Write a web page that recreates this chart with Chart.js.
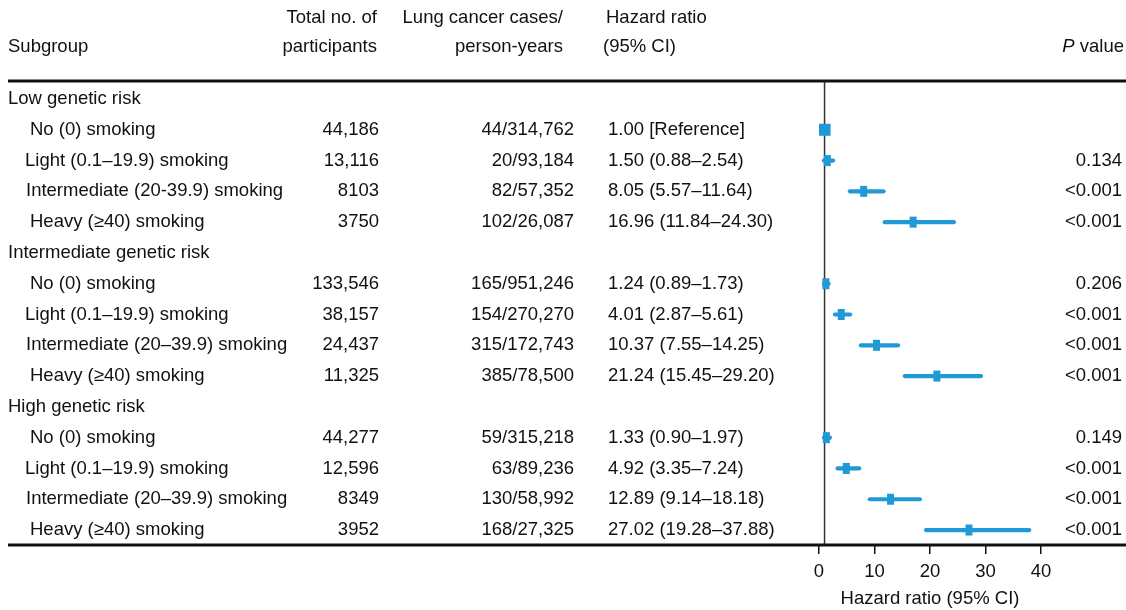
<!DOCTYPE html>
<html>
<head>
<meta charset="utf-8">
<script src="https://cdn.jsdelivr.net/npm/chart.js@4/dist/chart.umd.min.js"></script>
<style>
body{margin:0;background:#fff}
#wrap{width:1126px;height:610px;position:relative}
</style>
</head>
<body>
<div id="wrap"><canvas id="forest"></canvas></div>
<script>
/* TABLE DATA */
const rowLabels=['Low genetic risk','No (0) smoking','Light (0.1–19.9) smoking','Intermediate (20-39.9) smoking','Heavy (≥40) smoking',
  'Intermediate genetic risk','No (0) smoking','Light (0.1–19.9) smoking','Intermediate (20–39.9) smoking','Heavy (≥40) smoking',
  'High genetic risk','No (0) smoking','Light (0.1–19.9) smoking','Intermediate (20–39.9) smoking','Heavy (≥40) smoking'];
const labelX=[8,30,25,26,30, 8,30,25,26,30, 8,30,25,26,30];
const totals=['','44,186','13,116','8103','3750','','133,546','38,157','24,437','11,325','','44,277','12,596','8349','3952'];
const cases=['','44/314,762','20/93,184','82/57,352','102/26,087','','165/951,246','154/270,270','315/172,743','385/78,500',
  '','59/315,218','63/89,236','130/58,992','168/27,325'];
const hrText=['','1.00 [Reference]','1.50 (0.88–2.54)','8.05 (5.57–11.64)','16.96 (11.84–24.30)','','1.24 (0.89–1.73)','4.01 (2.87–5.61)',
  '10.37 (7.55–14.25)','21.24 (15.45–29.20)','','1.33 (0.90–1.97)','4.92 (3.35–7.24)','12.89 (9.14–18.18)','27.02 (19.28–37.88)'];
const pvals=['','','0.134','<0.001','<0.001','','0.206','<0.001','<0.001','<0.001','','0.149','<0.001','<0.001','<0.001'];

/* PLOT DATA */
const hr=[null,1.00,1.50,8.05,16.96,null,1.24,4.01,10.37,21.24,null,1.33,4.92,12.89,27.02];
const lo=[null,null,0.88,5.57,11.84,null,0.89,2.87,7.55,15.45,null,0.90,3.35,9.14,19.28];
const hi=[null,null,2.54,11.64,24.30,null,1.73,5.61,14.25,29.20,null,1.97,7.24,18.18,37.88];
const xTicks=[0,10,20,30,40];

const BLUE='#1f9ad6';
const FONT='"Liberation Sans", Arial, Helvetica, sans-serif';
const FS=18.5;

const points=[];
hr.forEach((v,i)=>{ if(v!==null) points.push({x:v,y:i,ref:lo[i]===null}); });

const tablePlugin={
  id:'forestTable',
  beforeDatasetsDraw(chart){
    const {ctx,scales:{x,y},chartArea}=chart;
    ctx.save();
    // reference line at HR = 1
    ctx.strokeStyle='#333';
    ctx.lineWidth=1.5;
    const x1=x.getPixelForValue(1);
    ctx.beginPath();ctx.moveTo(x1,chartArea.top);ctx.lineTo(x1,chartArea.bottom);ctx.stroke();
    // confidence intervals
    ctx.strokeStyle=BLUE;
    ctx.lineWidth=4.2;
    ctx.lineCap='round';
    hr.forEach((v,i)=>{
      if(v===null||lo[i]===null) return;
      const py=y.getPixelForValue(i);
      ctx.beginPath();
      ctx.moveTo(x.getPixelForValue(lo[i]),py);
      ctx.lineTo(x.getPixelForValue(hi[i]),py);
      ctx.stroke();
    });
    ctx.restore();
  },
  afterDraw(chart){
    const {ctx,scales:{y},chartArea,width}=chart;
    ctx.save();
    ctx.fillStyle='#111';
    ctx.font=FS+'px '+FONT;
    ctx.textBaseline='middle';
    // header
    ctx.textAlign='left';
    ctx.fillText('Subgroup',8,47);
    ctx.textAlign='right';
    ctx.fillText('Total no. of',377,18);
    ctx.fillText('participants',377,47);
    ctx.fillText('Lung cancer cases/',563,18);
    ctx.fillText('person-years',563,47);
    ctx.textAlign='left';
    ctx.fillText('Hazard ratio',606,18);
    ctx.fillText('(95% CI)',603,47);
    ctx.textAlign='right';
    ctx.fillText('value',1124,47);
    const vw=ctx.measureText(' value').width;
    ctx.font='italic '+FS+'px '+FONT;
    ctx.fillText('P',1124-vw,47);
    ctx.font=FS+'px '+FONT;
    // rows
    rowLabels.forEach((lab,i)=>{
      const py=y.getPixelForValue(i);
      ctx.textAlign='left';
      ctx.fillText(lab,labelX[i],py);
      ctx.textAlign='right';
      ctx.fillText(totals[i],379,py);
      ctx.fillText(cases[i],574,py);
      ctx.fillText(pvals[i],1122,py);
      ctx.textAlign='left';
      ctx.fillText(hrText[i],608,py);
    });
    // rules
    ctx.strokeStyle='#111';
    ctx.lineWidth=3;
    ctx.beginPath();
    ctx.moveTo(8,chartArea.top+1);ctx.lineTo(width,chartArea.top+1);
    ctx.moveTo(8,chartArea.bottom);ctx.lineTo(width,chartArea.bottom);
    ctx.stroke();
    ctx.restore();
  }
};

new Chart(document.getElementById('forest'),{
  type:'scatter',
  data:{datasets:[{
    data:points,
    backgroundColor:BLUE,
    borderColor:BLUE,
    pointStyle:c=>c.raw&&c.raw.ref?'rect':'line',
    pointRotation:c=>c.raw&&c.raw.ref?0:90,
    pointRadius:c=>c.raw&&c.raw.ref?8.5:5.5,
    pointBorderWidth:c=>c.raw&&c.raw.ref?0:7,
    pointHoverRadius:c=>c.raw&&c.raw.ref?8.5:5.5
  }]},
  options:{
    responsive:true,
    maintainAspectRatio:false,
    animation:false,
    layout:{padding:{left:819,right:85,top:80,bottom:0}},
    plugins:{legend:{display:false},tooltip:{enabled:false}},
    scales:{
      x:{
        type:'linear',min:0,max:40,
        afterBuildTicks:s=>{s.ticks=xTicks.map(v=>({value:v}));},
        afterFit:s=>{s.height=65;s.paddingLeft=0;s.paddingRight=0;},
        border:{display:false},
        grid:{display:true,drawOnChartArea:false,drawTicks:true,tickLength:9,color:'#111',lineWidth:1.5},
        ticks:{color:'#111',font:{family:FONT,size:FS},padding:7,maxRotation:0},
        title:{display:true,text:'Hazard ratio (95% CI)',color:'#111',font:{family:FONT,size:FS},padding:{top:0,bottom:0}}
      },
      y:{
        type:'linear',display:false,reverse:true,min:-0.617,max:14.486
      }
    }
  },
  plugins:[tablePlugin]
});
</script>
</body>
</html>
